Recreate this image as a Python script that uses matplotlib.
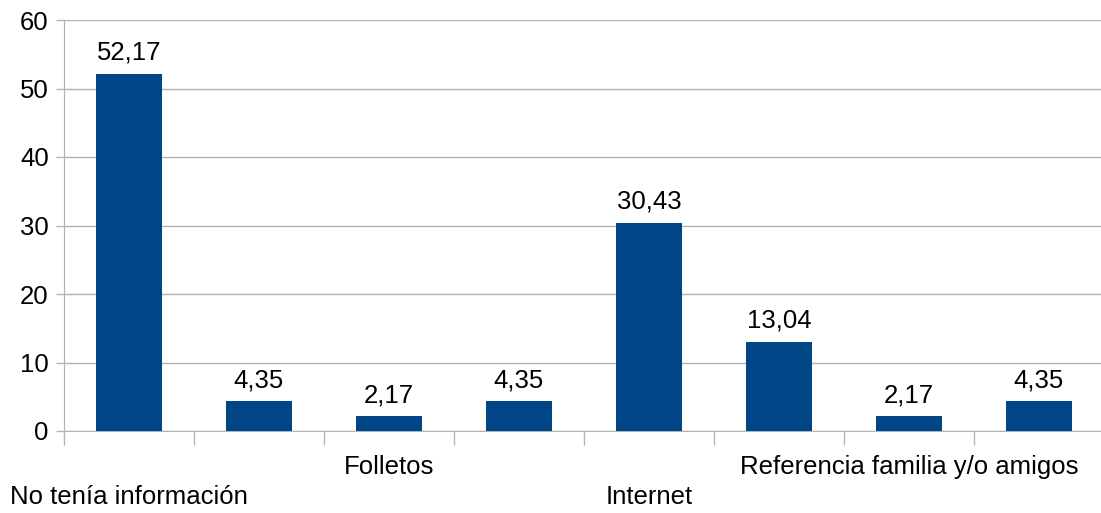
import matplotlib.pyplot as plt
import numpy as np

plt.rcParams['font.family'] = ['Liberation Sans', 'DejaVu Sans']

categorias = ["No tenía información", "", "Folletos", "",
              "Internet", "", "Referencia familia y/o amigos", ""]
valores = [52.17, 4.35, 2.17, 4.35, 30.43, 13.04, 2.17, 4.35]
etiquetas = ["52,17", "4,35", "2,17", "4,35", "30,43", "13,04", "2,17", "4,35"]

fs = 18.5

fig = plt.figure(figsize=(11.01, 5.13), dpi=100)
ax = fig.add_axes([64 / 1101, 1 - 431 / 513, 1040 / 1101, 411 / 513])

x = np.arange(len(valores))
ax.bar(x, valores, width=0.51, color="#004586", zorder=3)

for xi, v, lab in zip(x, valores, etiquetas):
    ax.annotate(lab, (xi, v), xytext=(0, 9), textcoords="offset pixels",
                ha="center", va="bottom", fontsize=fs)

ax.set_xlim(-0.5, len(valores) - 0.5)
ax.set_ylim(0, 60)
ax.set_yticks(range(0, 61, 10))
ax.yaxis.grid(True, color="#b3b3b3", lw=1, zorder=0)

# tick marks at category borders
ax.set_xticks(np.arange(-0.5, len(valores), 1))
ax.set_xticklabels([])
ax.tick_params(axis="x", direction="out", length=10, color="#b3b3b3", width=1)
ax.tick_params(axis="y", direction="out", length=6, color="#b3b3b3", width=1,
               labelsize=fs, pad=5)

# staggered category labels
for i, c in enumerate(categorias):
    if not c:
        continue
    off = -66 if (i // 2) % 2 == 0 else -36
    ax.annotate(c, (i, 0), xycoords=ax.get_xaxis_transform(),
                xytext=(0, off), textcoords="offset pixels",
                ha="center", va="center", fontsize=fs)

for s in ["top", "right"]:
    ax.spines[s].set_visible(False)
ax.spines["left"].set_color("#b3b3b3")
ax.spines["bottom"].set_color("#b3b3b3")

fig.savefig("out.png", dpi=100, facecolor="w")
